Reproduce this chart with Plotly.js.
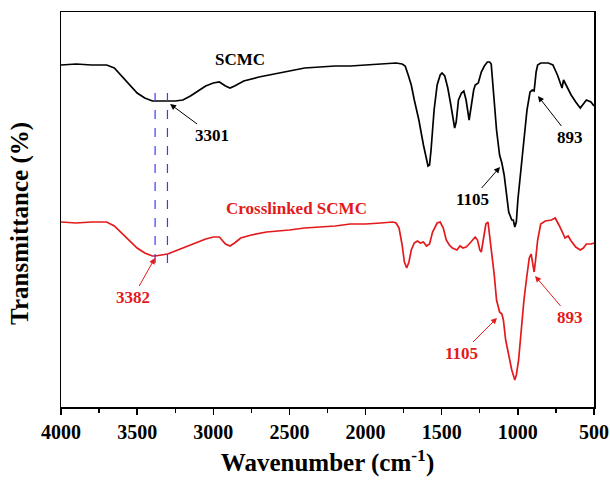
<!DOCTYPE html>
<html>
<head>
<meta charset="utf-8">
<script src="https://cdn.plot.ly/plotly-3.0.1.min.js"></script>
<style>html,body{margin:0;padding:0;background:#fff}#chart{width:610px;height:486px}</style>
</head>
<body>
<div id="chart"></div>
<script>
// Wavenumber (cm-1) and transmittance (arbitrary offset units)
const scmcWavenumber = [4000,3900,3800,3700,3650,3600,3550,3500,3450,3400,3382,3301,3250,3200,3150,3100,3050,3000,2960,2920,2890,2860,2800,2700,2600,2500,2400,2300,2200,2100,2000,1900,1800,1760,1740,1720,1700,1680,1650,1620,1600,1590,1580,1570,1550,1530,1510,1498,1480,1460,1440,1425,1415,1405,1390,1370,1355,1340,1325,1320,1310,1290,1280,1260,1240,1220,1200,1185,1175,1165,1155,1140,1120,1105,1090,1070,1060,1040,1030,1020,1010,1000,980,960,940,920,905,893,880,870,850,800,770,740,720,710,700,690,670,650,620,590,570,550,520,500];
const scmcT = [342,343,342,342,339,331,322,314,309,306,306,306,306,307,311,316,321,324,325,321,319,321,326,330,333,336,339,340,341,341,342,343,344,343,341,332,322,307,287,262,247,241,242,257,297,322,332,334,331,319,302,287,279,285,307,314,316,307,289,287,297,317,322,324,335,341,345,345,343,322,302,277,252,244,232,207,195,187,187,180,185,207,237,267,297,315,317,316,335,342,344,344,342,332,322,319,327,324,317,312,305,299,303,307,305,301];

const xlWavenumber = [4000,3900,3800,3700,3650,3600,3550,3500,3450,3400,3382,3330,3300,3250,3200,3150,3100,3050,3000,2960,2920,2890,2860,2820,2750,2650,2500,2400,2300,2200,2100,2000,1900,1820,1800,1780,1760,1745,1730,1715,1700,1680,1660,1640,1620,1600,1580,1560,1530,1510,1490,1470,1450,1430,1400,1380,1360,1340,1320,1300,1280,1265,1250,1240,1225,1210,1196,1185,1170,1155,1140,1120,1105,1095,1080,1060,1040,1020,1010,995,980,960,940,925,913,900,893,885,870,850,820,780,755,730,700,690,670,650,620,590,570,550,520,500];
const xlT = [185,184,185,185,181,174,166,159,154,151,151,152,153,156,159,162,165,168,170,170,163,161,164,169,172,175,177,179,180,181,183,183,184,185,184,179,162,145,139,145,157,164,166,164,165,161,163,175,184,185,179,167,162,159,157,161,159,160,163,167,170,167,157,155,169,183,185,172,149,132,107,95,93,87,67,52,37,27,32,47,72,107,132,149,153,142,135,145,167,183,186,187,189,182,172,169,171,166,160,157,159,163,163,164];

const markerLines = [3382, 3301];
const xTickVals = [4000,3500,3000,2500,2000,1500,1000,500];

const serif = 'Liberation Serif, Times New Roman, serif';
const red = '#e31a1c';

const traces = [
  {x: scmcWavenumber, y: scmcT, mode: 'lines', name: 'SCMC',
   line: {color: '#000000', width: 1.7}, hoverinfo: 'x+y'},
  {x: xlWavenumber, y: xlT, mode: 'lines', name: 'Crosslinked SCMC',
   line: {color: red, width: 1.7}, hoverinfo: 'x+y'}
];

function label(text, x, y, color) {
  return {text: '<b>' + text + '</b>', x: x, y: y, xref: 'x', yref: 'y', showarrow: false,
          font: {family: serif, size: 17, color: color}};
}
// text centred at (lx, ly), arrow pointing at (hx, hy)
function pointer(text, hx, hy, lx, ly, color) {
  return {text: '<b>' + text + '</b>', x: hx, y: hy, ax: lx, ay: ly, xref: 'x', yref: 'y', axref: 'x', ayref: 'y',
          font: {family: serif, size: 17, color: color},
          showarrow: true, arrowhead: 2, arrowsize: 1.2, arrowwidth: 1, arrowcolor: color, standoff: 0, startstandoff: 0};
}

const annotations = [
  label('SCMC', 2825, 348, '#000'),
  pointer('3301', 3284, 303, 3008, 272, '#000'),
  pointer('1105', 1117, 240, 1301, 208, '#000'),
  pointer('893', 868, 311, 658, 270, '#000'),
  label('Crosslinked SCMC', 2455, 199, red),
  pointer('3382', 3383, 149, 3527, 110, red),
  pointer('1105', 1137, 89, 1367, 54, red),
  pointer('893', 887, 131, 658, 90, red),
  {text: '<b>Transmittance (%)</b>', textangle: -90, xref: 'paper', yref: 'paper', x: -0.077, y: 0.466,
   xanchor: 'center', yanchor: 'middle', showarrow: false, font: {family: serif, size: 25, color: '#000'}}
];

const shapes = markerLines.map(v => ({type: 'line', xref: 'x', yref: 'y', x0: v, x1: v, y0: 144, y1: 314,
  line: {color: '#3a3aff', width: 1.2, dash: 'dash'}}));

const layout = {
  width: 610, height: 486,
  margin: {l: 61, r: 16, t: 12, b: 79},
  paper_bgcolor: '#ffffff', plot_bgcolor: '#ffffff',
  showlegend: false,
  font: {family: serif, color: '#000'},
  xaxis: {
    range: [4000, 500], autorange: false,
    tickvals: xTickVals, ticktext: xTickVals.map(v => '<b>' + v + '</b>'),
    ticks: 'outside', ticklen: 6, tickwidth: 1.3, tickcolor: '#000',
    minor: {dtick: 250, tick0: 0, ticks: 'outside', ticklen: 4, tickwidth: 1.3, tickcolor: '#000'},
    showline: true, linecolor: '#000', linewidth: 1.5, mirror: true,
    showgrid: false, zeroline: false,
    tickfont: {family: serif, size: 20, color: '#000'},
    title: {text: '<b>Wavenumber (cm<sup>-1</sup>)</b>', font: {family: serif, size: 25, color: '#000'}, standoff: 12}
  },
  yaxis: {
    range: [0, 395], autorange: false,
    showticklabels: false, ticks: '',
    showline: true, linecolor: '#000', linewidth: 1.5, mirror: true,
    showgrid: false, zeroline: false
  },
  annotations: annotations,
  shapes: shapes
};

Plotly.newPlot('chart', traces, layout, {displayModeBar: false, staticPlot: true});
</script>
</body>
</html>
